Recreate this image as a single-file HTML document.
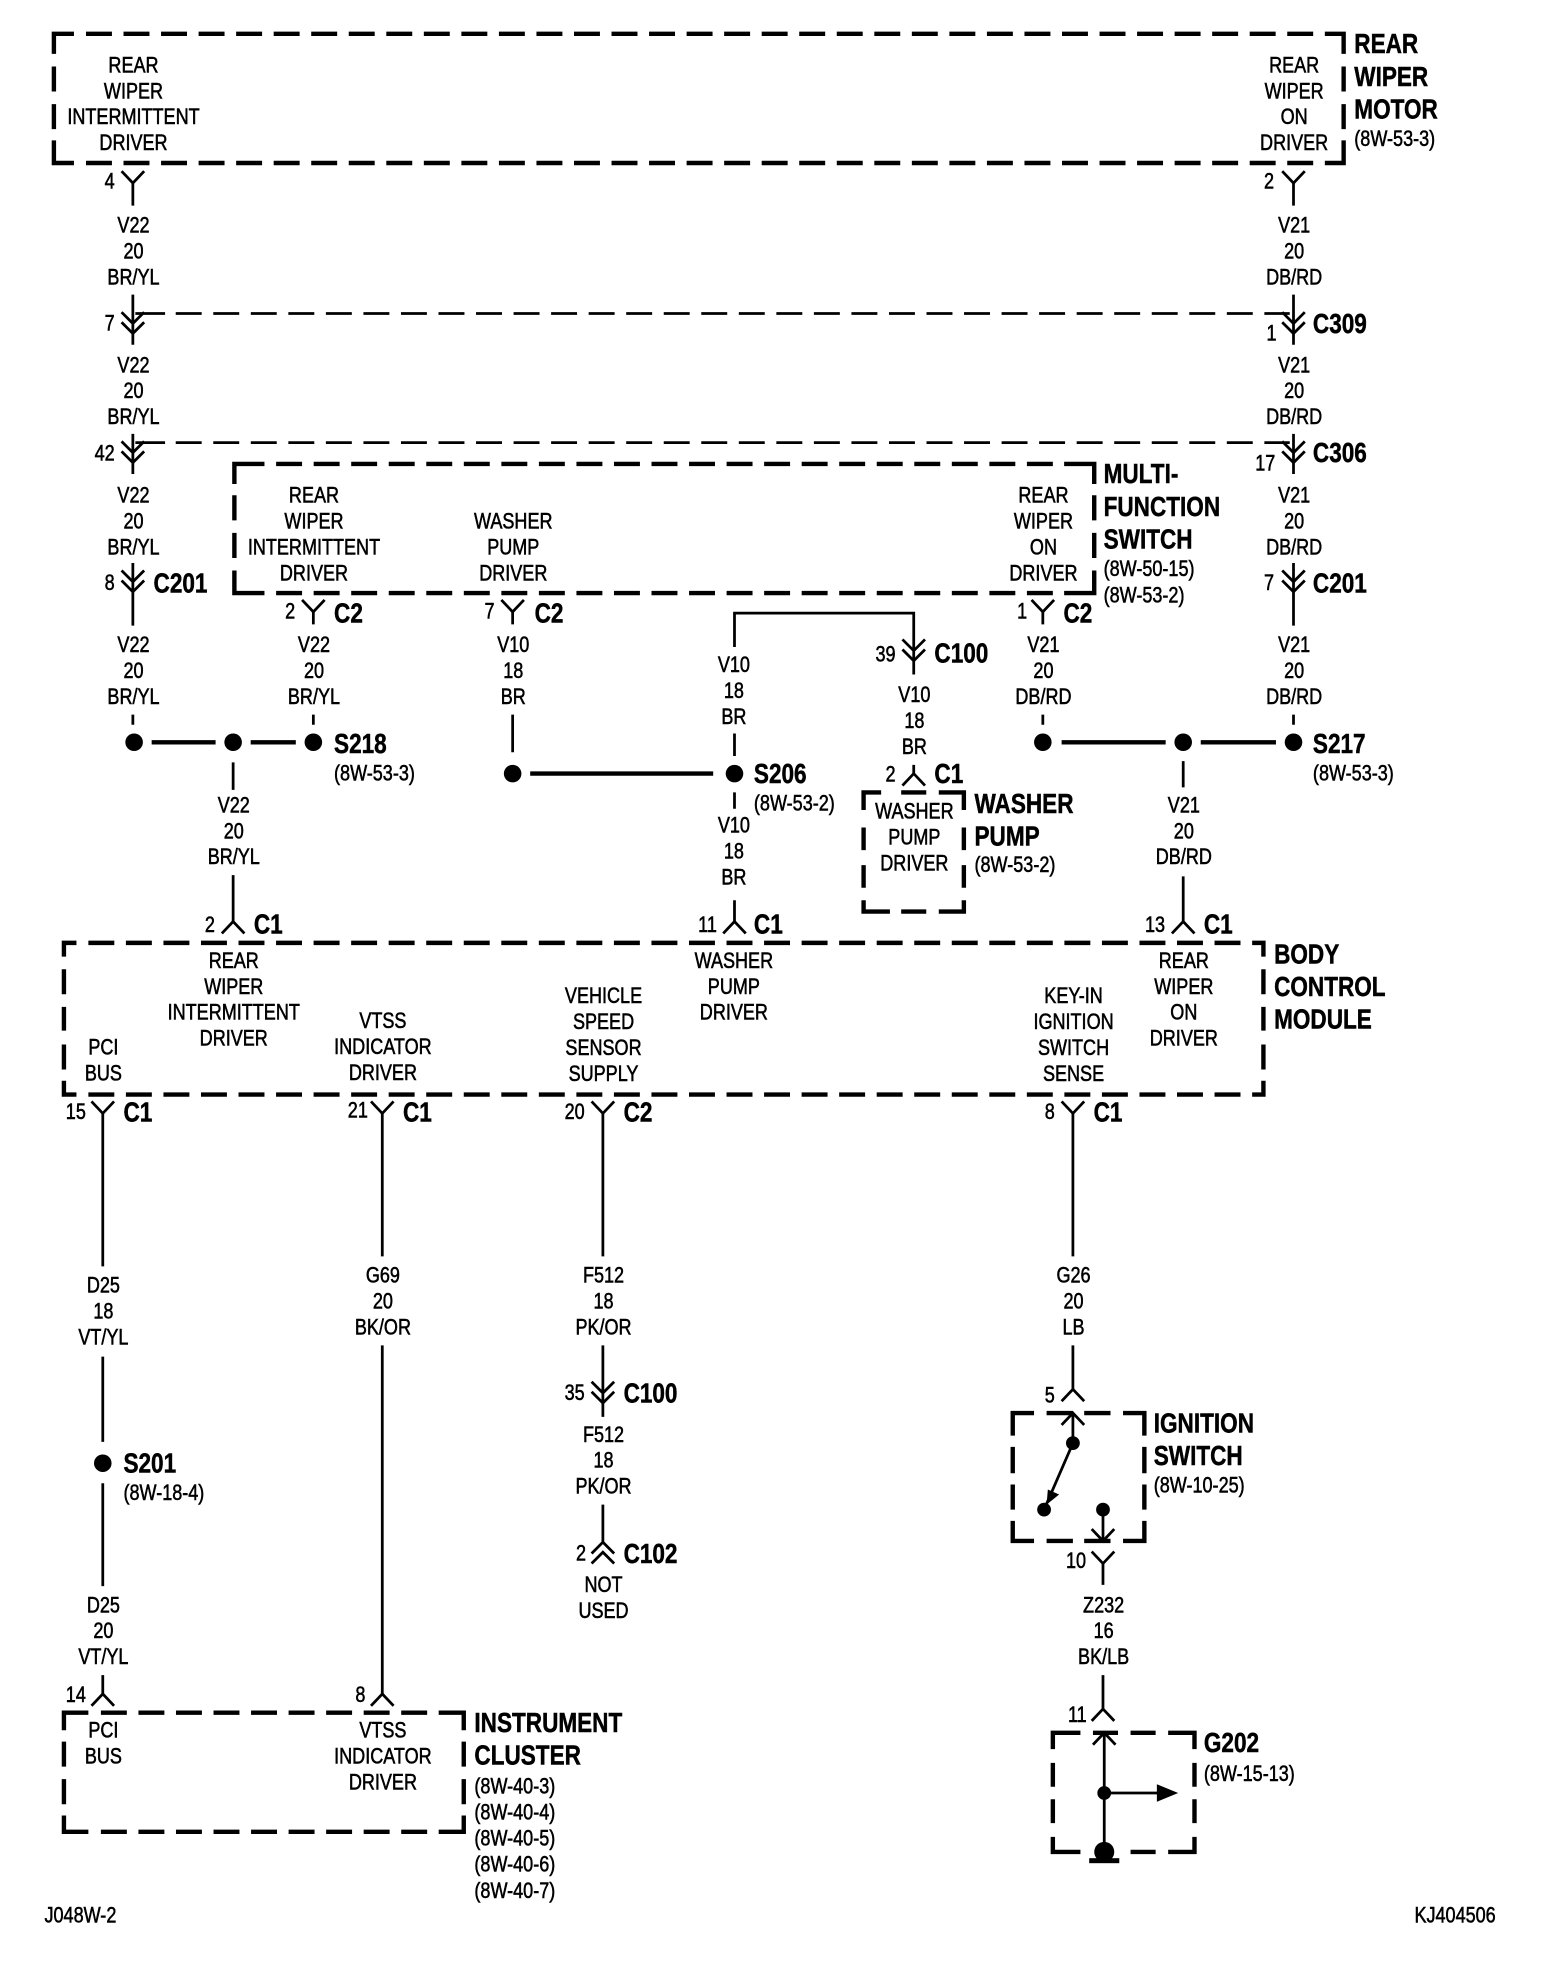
<!DOCTYPE html>
<html><head><meta charset="utf-8"><title>Rear wiper wiring diagram</title>
<style>
html,body{margin:0;padding:0;background:#fff}
svg{display:block}
text{font-family:"Liberation Sans",sans-serif;fill:#000}
.t{font-size:18px;text-anchor:middle;stroke:#000;stroke-width:.45}
.s{font-size:18px;stroke:#000;stroke-width:.45}
.b{font-size:22.5px;font-weight:bold;stroke:#000;stroke-width:.4}
.w,.y{fill:none;stroke:#000;stroke-width:2.2}
.k{fill:none;stroke:#000;stroke-width:3.5}
.d{fill:none;stroke:#000;stroke-width:3.5;stroke-dasharray:20.7 9.25}
.e{fill:none;stroke:#000;stroke-width:2.2;stroke-dasharray:20.7 9.25}
</style></head><body>
<svg width="1568" height="1966" viewBox="0 0 1251 1568" preserveAspectRatio="none" xmlns="http://www.w3.org/2000/svg">
<defs>
<path id="y" class="y" d="M-9-9.5L0 0L9-9.5"/>
<path id="u" class="y" d="M-9 9.5L0 0L9 9.5"/>
<path id="m" class="y" d="M-9-9L0 0L9-9M-9-1L0 8L9-1"/>
</defs>
<rect width="1251" height="1568" fill="#fff"/>

<!-- dashed boxes -->
<path class="k" d="M43 43V27H59M1057 27H1072V43M43 53V73M43 83V103M43 112V130H59M1057 130H1072V112M1072 53V73M1072 83V103"/>
<path class="d" d="M68.6 27H1048M68.6 130H1048"/>
<path class="k" d="M187 386V370H211M849 370H873V386M187 395V415M187 425V445M187 455V473H211M849 473H873V455M873 395V415M873 425V445"/>
<path class="d" d="M220.3 370H840M220.3 473H840"/>
<path class="k" d="M689 646V632H703M719 632H739M749 632H769V646M689 660V678M689 690V708M689 718V727H710M719 727H739M749 727H769V718M769 660V678M769 690V708"/>
<path class="k" d="M51 763V752H61M999 752H1008V763M51 773V793M51 803V822M51 833V853M51 862V873H61M999 873H1008V862M1008 773V793M1008 803V822M1008 833V853"/>
<path class="d" d="M70.5 752H990M70.5 873H990"/>
<path class="k" d="M51 1380V1366H70.5M350 1366H370V1380M51 1389V1409M51 1419V1439M51 1448V1461H70.5M350 1461H370V1448M370 1389V1409M370 1419V1439"/>
<path class="d" d="M80.5 1366H341M80.5 1461H341"/>
<path class="k" d="M808 1145V1127H825M835 1127H856M865 1127H886M896 1127H913V1145M808 1154V1175M808 1184V1204M808 1213V1229H825M835 1229H856M865 1229H886M896 1229H913V1213M913 1154V1175M913 1184V1204"/>
<path class="k" d="M840 1395V1382H862M872 1382H892M902 1382H922M932 1382H953V1395M840 1406V1425M840 1435V1454M840 1465V1477H862M902 1477H922M932 1477H953V1465M953 1406V1425M953 1435V1454"/>

<!-- dashed wires between connectors -->
<path class="w" d="M108 250H131.7M108 353H131.7"/>
<path class="e" d="M140.2 250H1029M140.2 353H1029"/>

<!-- wires -->
<path class="w" d="M106 146V164M106 235V275M106 346V378M106 449V499M106 570V578
M1032 146V164M1032 235V275M1032 346V378M1032 449V499M1032 570V578
M250 488V498M250 570V578M409 488V498M409 570V600M832 488V498M832 570V578
M586 516V489H729V538M586 585V603M586 632V645M586 718V735
M186 608V630M186 698V735M944 607V628M944 699V735M729 610V617
M82 888V1010M82 1082V1150M82 1183V1265M82 1336V1351
M305 888V1002M305 1073V1351
M481 888V1002M481 1073V1130M481 1200V1231
M856 888V1002M856 1073V1108
M856 1127V1151L833 1204M880 1204V1229
M880 1247V1264M880 1336V1363
M881 1382V1477M881 1430H925"/>

<!-- thick splice links -->
<path class="k" d="M121 592H172M200 592H236M423 617H569M847 592H930M958 592H1018"/>

<!-- dots -->
<g fill="#000">
<circle cx="107" cy="592" r="7"/><circle cx="186" cy="592" r="7"/><circle cx="250" cy="592" r="7"/>
<circle cx="409" cy="617" r="7"/><circle cx="586" cy="617" r="7"/>
<circle cx="832" cy="592" r="7"/><circle cx="944" cy="592" r="7"/><circle cx="1032" cy="592" r="7"/>
<circle cx="82" cy="1167" r="7"/>
<circle cx="856" cy="1151" r="5.5"/><circle cx="833" cy="1204" r="5.5"/><circle cx="880" cy="1204" r="5.5"/>
<circle cx="881" cy="1430" r="5.5"/><circle cx="881" cy="1477" r="8"/>
<path d="M836 1188L845 1192L835 1200Z"/>
<path d="M923 1423L940 1430L923 1437Z"/>
<rect x="869" y="1482" width="24" height="4"/>
</g>

<!-- connector glyphs -->
<use href="#y" x="106" y="146"/><use href="#y" x="1032" y="146"/>
<use href="#m" x="106" y="258"/><use href="#m" x="1032" y="258"/>
<use href="#m" x="106" y="361"/><use href="#m" x="1032" y="361"/>
<use href="#m" x="106" y="464"/><use href="#m" x="1032" y="464"/>
<use href="#y" x="250" y="488"/><use href="#y" x="409" y="488"/><use href="#y" x="832" y="488"/>
<use href="#m" x="729" y="519"/>
<use href="#u" x="729" y="617"/>
<use href="#u" x="186" y="735"/><use href="#u" x="586" y="735"/><use href="#u" x="944" y="735"/>
<use href="#y" x="82" y="888"/><use href="#y" x="305" y="888"/><use href="#y" x="481" y="888"/><use href="#y" x="856" y="888"/>
<use href="#m" x="481" y="1111"/>
<path class="y" d="M472 1239L481 1230L490 1239M472 1247L481 1238L490 1247"/>
<use href="#u" x="82" y="1351"/><use href="#u" x="305" y="1351"/>
<use href="#u" x="856" y="1108"/>
<use href="#u" x="856" y="1127"/>
<use href="#y" x="880" y="1229"/>
<use href="#y" x="880" y="1247"/>
<use href="#u" x="880" y="1363"/>
<use href="#u" x="881" y="1382"/>

<g transform="translate(.5 -.6)">
<!-- box labels -->
<text class="t" transform="matrix(.8 0 0 1 106 58.5)"><tspan x="0">REAR</tspan><tspan x="0" dy="20.5">WIPER</tspan><tspan x="0" dy="20.7">INTERMITTENT</tspan><tspan x="0" dy="20.7">DRIVER</tspan></text>
<text class="t" transform="matrix(.8 0 0 1 1032 58.5)"><tspan x="0">REAR</tspan><tspan x="0" dy="20.5">WIPER</tspan><tspan x="0" dy="20.7">ON</tspan><tspan x="0" dy="20.7">DRIVER</tspan></text>
<text class="t" transform="matrix(.8 0 0 1 250 401.5)"><tspan x="0">REAR</tspan><tspan x="0" dy="20.5">WIPER</tspan><tspan x="0" dy="20.7">INTERMITTENT</tspan><tspan x="0" dy="20.7">DRIVER</tspan></text>
<text class="t" transform="matrix(.8 0 0 1 409 422)"><tspan x="0">WASHER</tspan><tspan x="0" dy="20.7">PUMP</tspan><tspan x="0" dy="20.7">DRIVER</tspan></text>
<text class="t" transform="matrix(.8 0 0 1 832 401.5)"><tspan x="0">REAR</tspan><tspan x="0" dy="20.5">WIPER</tspan><tspan x="0" dy="20.7">ON</tspan><tspan x="0" dy="20.7">DRIVER</tspan></text>
<text class="t" transform="matrix(.8 0 0 1 729 653.5)"><tspan x="0">WASHER</tspan><tspan x="0" dy="20.7">PUMP</tspan><tspan x="0" dy="20.7">DRIVER</tspan></text>
<text class="t" transform="matrix(.8 0 0 1 186 772.5)"><tspan x="0">REAR</tspan><tspan x="0" dy="20.7">WIPER</tspan><tspan x="0" dy="20.7">INTERMITTENT</tspan><tspan x="0" dy="20.7">DRIVER</tspan></text>
<text class="t" transform="matrix(.8 0 0 1 585 772.5)"><tspan x="0">WASHER</tspan><tspan x="0" dy="20.7">PUMP</tspan><tspan x="0" dy="20.7">DRIVER</tspan></text>
<text class="t" transform="matrix(.8 0 0 1 944 772.5)"><tspan x="0">REAR</tspan><tspan x="0" dy="20.7">WIPER</tspan><tspan x="0" dy="20.7">ON</tspan><tspan x="0" dy="20.7">DRIVER</tspan></text>
<text class="t" transform="matrix(.8 0 0 1 82 841.5)"><tspan x="0">PCI</tspan><tspan x="0" dy="20.7">BUS</tspan></text>
<text class="t" transform="matrix(.8 0 0 1 305 820.5)"><tspan x="0">VTSS</tspan><tspan x="0" dy="20.7">INDICATOR</tspan><tspan x="0" dy="20.7">DRIVER</tspan></text>
<text class="t" transform="matrix(.8 0 0 1 481 800.5)"><tspan x="0">VEHICLE</tspan><tspan x="0" dy="20.7">SPEED</tspan><tspan x="0" dy="20.7">SENSOR</tspan><tspan x="0" dy="20.7">SUPPLY</tspan></text>
<text class="t" transform="matrix(.8 0 0 1 856 800.5)"><tspan x="0">KEY-IN</tspan><tspan x="0" dy="20.7">IGNITION</tspan><tspan x="0" dy="20.7">SWITCH</tspan><tspan x="0" dy="20.7">SENSE</tspan></text>
<text class="t" transform="matrix(.8 0 0 1 82 1386.5)"><tspan x="0">PCI</tspan><tspan x="0" dy="20.7">BUS</tspan></text>
<text class="t" transform="matrix(.8 0 0 1 305 1386.5)"><tspan x="0">VTSS</tspan><tspan x="0" dy="20.7">INDICATOR</tspan><tspan x="0" dy="20.7">DRIVER</tspan></text>

<!-- wire labels -->
<text class="t" transform="matrix(.8 0 0 1 106 186)"><tspan x="0">V22</tspan><tspan x="0" dy="20.7">20</tspan><tspan x="0" dy="20.7">BR/YL</tspan></text>
<text class="t" transform="matrix(.8 0 0 1 106 297.5)"><tspan x="0">V22</tspan><tspan x="0" dy="20.7">20</tspan><tspan x="0" dy="20.7">BR/YL</tspan></text>
<text class="t" transform="matrix(.8 0 0 1 106 401.5)"><tspan x="0">V22</tspan><tspan x="0" dy="20.7">20</tspan><tspan x="0" dy="20.7">BR/YL</tspan></text>
<text class="t" transform="matrix(.8 0 0 1 106 520.5)"><tspan x="0">V22</tspan><tspan x="0" dy="20.7">20</tspan><tspan x="0" dy="20.7">BR/YL</tspan></text>
<text class="t" transform="matrix(.8 0 0 1 250 520.5)"><tspan x="0">V22</tspan><tspan x="0" dy="20.7">20</tspan><tspan x="0" dy="20.7">BR/YL</tspan></text>
<text class="t" transform="matrix(.8 0 0 1 186 648.5)"><tspan x="0">V22</tspan><tspan x="0" dy="20.7">20</tspan><tspan x="0" dy="20.7">BR/YL</tspan></text>
<text class="t" transform="matrix(.8 0 0 1 1032 186)"><tspan x="0">V21</tspan><tspan x="0" dy="20.7">20</tspan><tspan x="0" dy="20.7">DB/RD</tspan></text>
<text class="t" transform="matrix(.8 0 0 1 1032 297.5)"><tspan x="0">V21</tspan><tspan x="0" dy="20.7">20</tspan><tspan x="0" dy="20.7">DB/RD</tspan></text>
<text class="t" transform="matrix(.8 0 0 1 1032 401.5)"><tspan x="0">V21</tspan><tspan x="0" dy="20.7">20</tspan><tspan x="0" dy="20.7">DB/RD</tspan></text>
<text class="t" transform="matrix(.8 0 0 1 1032 520.5)"><tspan x="0">V21</tspan><tspan x="0" dy="20.7">20</tspan><tspan x="0" dy="20.7">DB/RD</tspan></text>
<text class="t" transform="matrix(.8 0 0 1 832 520.5)"><tspan x="0">V21</tspan><tspan x="0" dy="20.7">20</tspan><tspan x="0" dy="20.7">DB/RD</tspan></text>
<text class="t" transform="matrix(.8 0 0 1 944 648.5)"><tspan x="0">V21</tspan><tspan x="0" dy="20.7">20</tspan><tspan x="0" dy="20.7">DB/RD</tspan></text>
<text class="t" transform="matrix(.8 0 0 1 409 520.5)"><tspan x="0">V10</tspan><tspan x="0" dy="20.7">18</tspan><tspan x="0" dy="20.7">BR</tspan></text>
<text class="t" transform="matrix(.8 0 0 1 585 536.5)"><tspan x="0">V10</tspan><tspan x="0" dy="20.7">18</tspan><tspan x="0" dy="20.7">BR</tspan></text>
<text class="t" transform="matrix(.8 0 0 1 585 664.5)"><tspan x="0">V10</tspan><tspan x="0" dy="20.7">18</tspan><tspan x="0" dy="20.7">BR</tspan></text>
<text class="t" transform="matrix(.8 0 0 1 729 560.5)"><tspan x="0">V10</tspan><tspan x="0" dy="20.7">18</tspan><tspan x="0" dy="20.7">BR</tspan></text>
<text class="t" transform="matrix(.8 0 0 1 82 1031.5)"><tspan x="0">D25</tspan><tspan x="0" dy="20.7">18</tspan><tspan x="0" dy="20.7">VT/YL</tspan></text>
<text class="t" transform="matrix(.8 0 0 1 82 1286.5)"><tspan x="0">D25</tspan><tspan x="0" dy="20.7">20</tspan><tspan x="0" dy="20.7">VT/YL</tspan></text>
<text class="t" transform="matrix(.8 0 0 1 305 1023.5)"><tspan x="0">G69</tspan><tspan x="0" dy="20.7">20</tspan><tspan x="0" dy="20.7">BK/OR</tspan></text>
<text class="t" transform="matrix(.8 0 0 1 481 1023.5)"><tspan x="0">F512</tspan><tspan x="0" dy="20.7">18</tspan><tspan x="0" dy="20.7">PK/OR</tspan></text>
<text class="t" transform="matrix(.8 0 0 1 481 1150.5)"><tspan x="0">F512</tspan><tspan x="0" dy="20.7">18</tspan><tspan x="0" dy="20.7">PK/OR</tspan></text>
<text class="t" transform="matrix(.8 0 0 1 481 1270.5)"><tspan x="0">NOT</tspan><tspan x="0" dy="20.7">USED</tspan></text>
<text class="t" transform="matrix(.8 0 0 1 856 1023.5)"><tspan x="0">G26</tspan><tspan x="0" dy="20.7">20</tspan><tspan x="0" dy="20.7">LB</tspan></text>
<text class="t" transform="matrix(.8 0 0 1 880 1286.5)"><tspan x="0">Z232</tspan><tspan x="0" dy="20.7">16</tspan><tspan x="0" dy="20.7">BK/LB</tspan></text>

<!-- pin numbers -->
<text class="t" transform="matrix(.8 0 0 1 87 151)">4</text>
<text class="t" transform="matrix(.8 0 0 1 1012 151)">2</text>
<text class="t" transform="matrix(.8 0 0 1 87 264)">7</text>
<text class="t" transform="matrix(.8 0 0 1 1014 272)">1</text>
<text class="t" transform="matrix(.8 0 0 1 83 368)">42</text>
<text class="t" transform="matrix(.8 0 0 1 1009 376)">17</text>
<text class="t" transform="matrix(.8 0 0 1 87 471)">8</text>
<text class="t" transform="matrix(.8 0 0 1 1012 471)">7</text>
<text class="t" transform="matrix(.8 0 0 1 231 494)">2</text>
<text class="t" transform="matrix(.8 0 0 1 390 494)">7</text>
<text class="t" transform="matrix(.8 0 0 1 815 494)">1</text>
<text class="t" transform="matrix(.8 0 0 1 706 528)">39</text>
<text class="t" transform="matrix(.8 0 0 1 710 624)">2</text>
<text class="t" transform="matrix(.8 0 0 1 167 744)">2</text>
<text class="t" transform="matrix(.8 0 0 1 564 744)">11</text>
<text class="t" transform="matrix(.8 0 0 1 921 744)">13</text>
<text class="t" transform="matrix(.8 0 0 1 60 893)">15</text>
<text class="t" transform="matrix(.8 0 0 1 285 892)">21</text>
<text class="t" transform="matrix(.8 0 0 1 458 893)">20</text>
<text class="t" transform="matrix(.8 0 0 1 837 893)">8</text>
<text class="t" transform="matrix(.8 0 0 1 458 1117)">35</text>
<text class="t" transform="matrix(.8 0 0 1 463 1245)">2</text>
<text class="t" transform="matrix(.8 0 0 1 837 1119)">5</text>
<text class="t" transform="matrix(.8 0 0 1 858 1251)">10</text>
<text class="t" transform="matrix(.8 0 0 1 859 1374)">11</text>
<text class="t" transform="matrix(.8 0 0 1 60 1358)">14</text>
<text class="t" transform="matrix(.8 0 0 1 287 1358)">8</text>

<!-- connector names -->
<text class="b" transform="matrix(.8 0 0 1 1047 266)">C309</text>
<text class="b" transform="matrix(.8 0 0 1 1047 369)">C306</text>
<text class="b" transform="matrix(.8 0 0 1 1047 473)">C201</text>
<text class="b" transform="matrix(.8 0 0 1 122 473)">C201</text>
<text class="b" transform="matrix(.8 0 0 1 266 497)">C2</text>
<text class="b" transform="matrix(.8 0 0 1 426 497)">C2</text>
<text class="b" transform="matrix(.8 0 0 1 848 497)">C2</text>
<text class="b" transform="matrix(.8 0 0 1 745 529)">C100</text>
<text class="b" transform="matrix(.8 0 0 1 745 625)">C1</text>
<text class="b" transform="matrix(.8 0 0 1 202 745)">C1</text>
<text class="b" transform="matrix(.8 0 0 1 601 745)">C1</text>
<text class="b" transform="matrix(.8 0 0 1 960 745)">C1</text>
<text class="b" transform="matrix(.8 0 0 1 98 895)">C1</text>
<text class="b" transform="matrix(.8 0 0 1 321 895)">C1</text>
<text class="b" transform="matrix(.8 0 0 1 497 895)">C2</text>
<text class="b" transform="matrix(.8 0 0 1 872 895)">C1</text>
<text class="b" transform="matrix(.8 0 0 1 497 1119)">C100</text>
<text class="b" transform="matrix(.8 0 0 1 497 1247)">C102</text>
<text class="b" transform="matrix(.8 0 0 1 266 601)">S218</text>
<text class="b" transform="matrix(.8 0 0 1 601 625)">S206</text>
<text class="b" transform="matrix(.8 0 0 1 1047 601)">S217</text>
<text class="b" transform="matrix(.8 0 0 1 98 1175)">S201</text>

<!-- component titles -->
<text class="b" transform="matrix(.8 0 0 1 1080 43)"><tspan x="0">REAR</tspan><tspan x="0" dy="26">WIPER</tspan><tspan x="0" dy="26">MOTOR</tspan></text>
<text class="s" transform="matrix(.8 0 0 1 1080 117)">(8W-53-3)</text>
<text class="b" transform="matrix(.8 0 0 1 880 386)"><tspan x="0">MULTI-</tspan><tspan x="0" dy="26">FUNCTION</tspan><tspan x="0" dy="26">SWITCH</tspan></text>
<text class="s" transform="matrix(.8 0 0 1 880 460)"><tspan x="0">(8W-50-15)</tspan><tspan x="0" dy="21">(8W-53-2)</tspan></text>
<text class="s" transform="matrix(.8 0 0 1 266 623)">(8W-53-3)</text>
<text class="s" transform="matrix(.8 0 0 1 601 647)">(8W-53-2)</text>
<text class="s" transform="matrix(.8 0 0 1 1047 623)">(8W-53-3)</text>
<text class="b" transform="matrix(.8 0 0 1 777 649)"><tspan x="0">WASHER</tspan><tspan x="0" dy="26">PUMP</tspan></text>
<text class="s" transform="matrix(.8 0 0 1 777 696)">(8W-53-2)</text>
<text class="b" transform="matrix(.8 0 0 1 1016 769)"><tspan x="0">BODY</tspan><tspan x="0" dy="26">CONTROL</tspan><tspan x="0" dy="26">MODULE</tspan></text>
<text class="s" transform="matrix(.8 0 0 1 98 1197)">(8W-18-4)</text>
<text class="b" transform="matrix(.8 0 0 1 920 1143)"><tspan x="0">IGNITION</tspan><tspan x="0" dy="26">SWITCH</tspan></text>
<text class="s" transform="matrix(.8 0 0 1 920 1191)">(8W-10-25)</text>
<text class="b" transform="matrix(.8 0 0 1 960 1398)">G202</text>
<text class="s" transform="matrix(.8 0 0 1 960 1421)">(8W-15-13)</text>
<text class="b" transform="matrix(.8 0 0 1 378 1382)"><tspan x="0">INSTRUMENT</tspan><tspan x="0" dy="26">CLUSTER</tspan></text>
<text class="s" transform="matrix(.8 0 0 1 378 1431)"><tspan x="0">(8W-40-3)</tspan><tspan x="0" dy="20.8">(8W-40-4)</tspan><tspan x="0" dy="20.8">(8W-40-5)</tspan><tspan x="0" dy="20.8">(8W-40-6)</tspan><tspan x="0" dy="20.8">(8W-40-7)</tspan></text>

<text class="s" transform="matrix(.8 0 0 1 35 1534)">J048W-2</text>
<text class="s" transform="matrix(.8 0 0 1 1128 1534)">KJ404506</text>
</g>
</svg>
</body></html>
